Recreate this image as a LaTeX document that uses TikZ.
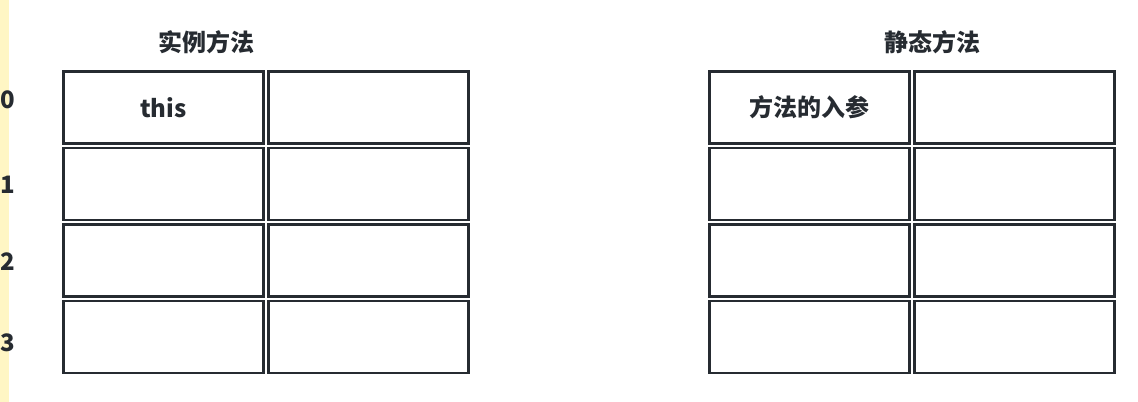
\documentclass[tikz,border=0pt]{standalone}
\usepackage{fontspec}
\setmainfont{Noto Sans CJK SC}
\usetikzlibrary{positioning}
\definecolor{ink}{RGB}{38,43,49}
\definecolor{gutter}{RGB}{255,246,196}
\tikzset{
  cell/.style={draw=ink, line width=1.8pt, minimum width=150pt, minimum height=54pt,
    inner sep=0pt, text=ink, font=\bfseries\fontsize{18}{18}\selectfont},
  title/.style={text=ink, inner sep=0pt, font=\bfseries\fontsize{18}{18}\selectfont},
  idx/.style={anchor=west, text=ink, inner sep=0pt, font=\bfseries\fontsize{18}{18}\selectfont}
}
\begin{document}
\begin{tikzpicture}[x=0.75pt, y=-0.75pt]
  \useasboundingbox (0,0) rectangle (1138,402);
  \clip (0,0) rectangle (1138,402);
  \fill[gutter] (0,0) rectangle (9,402);

  % slot numbers
  \node[idx] (n0) at (0.5,100) {0};
  \node[idx] (n1) at (0.5,185) {1};
  \node[idx] (n2) at (0.5,262) {2};
  \node[idx] (n3) at (0.5,343) {3};

  % instance method
  \node[title] (inst) at (206,42.5) {实例方法};
  \node[cell] (i0a) at (163.3,107.6) {this};
  \node[cell] (i0b) at (368.3,107.6) {};
  \foreach \r/\y in {1/184,2/260.5,3/337.2} {
    \node[cell] (i\r a) at (163.3,\y) {};
    \node[cell] (i\r b) at (368.3,\y) {};
  }

  % static method
  \node[title] (stat) at (932.5,42.5) {静态方法};
  \node[cell] (s0a) at (809.5,107.6) {方法的入参};
  \node[cell] (s0b) at (1014.5,107.6) {};
  \foreach \r/\y in {1/184,2/260.5,3/337.2} {
    \node[cell] (s\r a) at (809.5,\y) {};
    \node[cell] (s\r b) at (1014.5,\y) {};
  }
\end{tikzpicture}
\end{document}
